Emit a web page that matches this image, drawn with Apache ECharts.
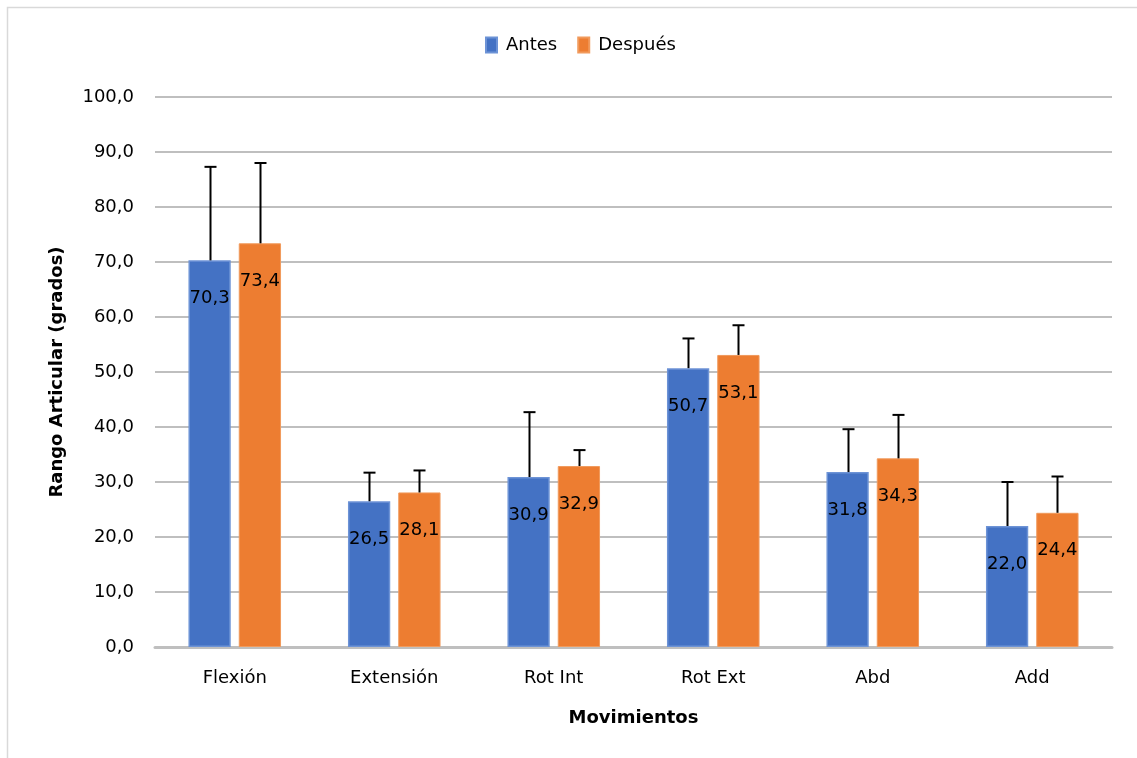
<!DOCTYPE html>
<html><head><meta charset="utf-8">
<script src="https://cdn.jsdelivr.net/npm/echarts@6/dist/echarts.min.js"></script>
<style>html,body{margin:0;padding:0;background:#fff}#c{width:1137px;height:758px}</style>
</head><body><div id="c"></div>
<script>
const categories = ['Flexión','Extensión','Rot Int','Rot Ext','Abd','Add'];
const antes = [70.3, 26.5, 30.9, 50.7, 31.8, 22.0];
const despues = [73.4, 28.1, 32.9, 53.1, 34.3, 24.4];
const errAntes = [17.0, 5.2, 11.8, 5.4, 7.8, 8.0];
const errDespues = [14.6, 4.0, 2.9, 5.4, 7.9, 6.6];
const yTicks = [0,10,20,30,40,50,60,70,80,90,100];

const FONT = 'DejaVu Sans';
const BAR_W = 0.265, GAP = 0.19;
const fmt = v => v.toFixed(1).replace('.', ',');

function errSeries(name, means, errs, idx) {
  return {
    type: 'custom', name: name + ' err', z: 5, silent: true,
    data: means.map((m, i) => [i, m, m + errs[i]]),
    renderItem: function (params, api) {
      const band = api.size([1, 0])[0];
      const bw = band * BAR_W;
      const off = (bw + bw * GAP) / 2 * (idx === 0 ? -1 : 1);
      const base = api.coord([api.value(0), api.value(1)]);
      const top = api.coord([api.value(0), api.value(2)]);
      const x = Math.round(base[0] + off) + 0.5;
      return {
        type: 'group', children: [
          { type: 'line', shape: { x1: x, y1: base[1], x2: x, y2: top[1] }, style: { stroke: '#000', lineWidth: 2 } },
          { type: 'line', shape: { x1: x - 6, y1: top[1], x2: x + 6, y2: top[1] }, style: { stroke: '#000', lineWidth: 2 } }
        ]
      };
    }
  };
}

const chart = echarts.init(document.getElementById('c'));
chart.setOption({
  animation: false,
  textStyle: { fontFamily: FONT },
  graphic: [{ type: 'rect', shape: { x: 7.5, y: 7.5, width: 1140, height: 760 }, style: { fill: 'none', stroke: '#d9d9d9', lineWidth: 1.5 }, z: -10 }],
  legend: {
    top: 31, left: 480, itemWidth: 11, itemHeight: 15, itemGap: 20,
    icon: 'rect',
    data: ['Antes', 'Después'],
    textStyle: { fontSize: 18, color: '#000', fontFamily: FONT, padding: [0, 0, 0, 4] }
  },
  grid: { left: 155, right: 25, top: 97, bottom: 111 },
  xAxis: {
    type: 'category', data: categories,
    name: 'Movimientos', nameLocation: 'middle', nameGap: 62,
    nameTextStyle: { fontSize: 18, fontWeight: 'bold', color: '#000', fontFamily: FONT },
    axisLine: { lineStyle: { color: '#bfbfbf', width: 3 } },
    axisTick: { show: false },
    axisLabel: { fontSize: 18, color: '#000', margin: 22, fontFamily: FONT }
  },
  yAxis: {
    type: 'value', min: 0, max: 100, interval: 10,
    name: 'Rango Articular (grados)', nameLocation: 'middle', nameGap: 89, nameRotate: 90,
    nameTextStyle: { fontSize: 18, fontWeight: 'bold', color: '#000', fontFamily: FONT },
    axisLine: { show: false }, axisTick: { show: false },
    axisLabel: { fontSize: 18, color: '#000', margin: 21, fontFamily: FONT,
      formatter: v => yTicks.includes(v) ? fmt(v) : '' },
    splitLine: { lineStyle: { color: '#bfbfbf', width: 2 } }
  },
  series: [
    { name: 'Antes', type: 'bar', data: antes, barWidth: (BAR_W * 100) + '%', barGap: (GAP * 100) + '%',
      itemStyle: { color: '#4472c4', borderColor: '#6d93d6', borderWidth: 1.5 },
      label: { show: true, position: 'insideTop', distance: 29, fontSize: 18, color: '#000', fontFamily: FONT, formatter: p => fmt(p.value) } },
    { name: 'Después', type: 'bar', data: despues, barWidth: (BAR_W * 100) + '%',
      itemStyle: { color: '#ed7d31', borderColor: '#f19a5c', borderWidth: 1 },
      label: { show: true, position: 'insideTop', distance: 29, fontSize: 18, color: '#000', fontFamily: FONT, formatter: p => fmt(p.value) } },
    errSeries('Antes', antes, errAntes, 0),
    errSeries('Después', despues, errDespues, 1)
  ]
});
</script></body></html>
